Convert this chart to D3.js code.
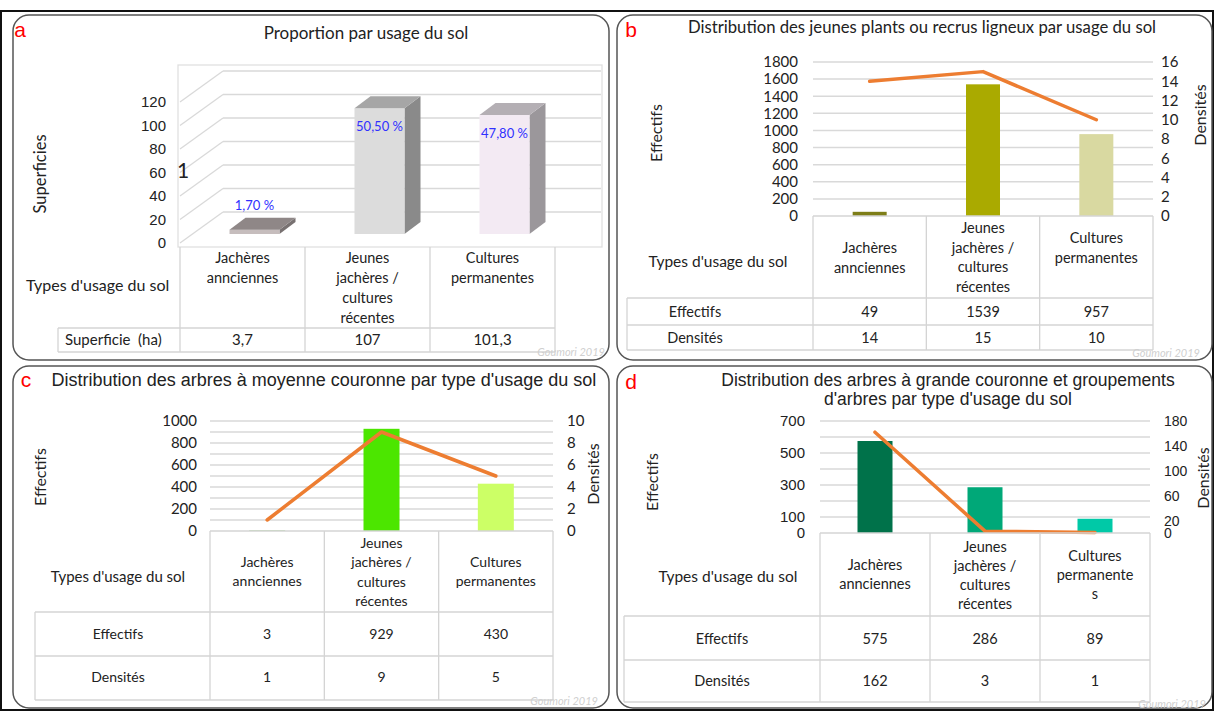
<!DOCTYPE html>
<html>
<head>
<meta charset="utf-8">
<script src="https://cdn.jsdelivr.net/npm/d3@7"></script>
<style>
body { margin: 0; background: #fff; }
svg { display: block; }
</style>
</head>
<body>
<script>
// ---- data ----
const catKeys = ["Jachères annciennes", "Jeunes jachères / cultures récentes", "Cultures permanentes"];
const catLines = [["Jachères", "annciennes"], ["Jeunes", "jachères /", "cultures", "récentes"], ["Cultures", "permanentes"]];
const catLinesD = [["Jachères", "annciennes"], ["Jeunes", "jachères /", "cultures", "récentes"], ["Cultures", "permanente", "s"]];

const superficie = [3.7, 107, 101.3];
const superficieText = ["3,7", "107", "101,3"];
const proportions = ["1,70 %", "50,50 %", "47,80 %"];
const ticksA = [0, 20, 40, 60, 80, 100, 120];

const effectifsB = [49, 1539, 957];
const densitesB = [14, 15, 10];
const ticksLeftB = [0, 200, 400, 600, 800, 1000, 1200, 1400, 1600, 1800];
const ticksRightB = [0, 2, 4, 6, 8, 10, 12, 14, 16];

const effectifsC = [3, 929, 430];
const densitesC = [1, 9, 5];
const ticksLeftC = [0, 200, 400, 600, 800, 1000];
const ticksRightC = [0, 2, 4, 6, 8, 10];

const effectifsD = [575, 286, 89];
const densitesD = [162, 3, 1];
const ticksLeftD = [0, 100, 300, 500, 700];
const ticksRightD = [0, 20, 60, 100, 140, 180];

const CAL = "Lato, 'Open Sans', sans-serif";
const ARIAL = "'Liberation Sans', Arial, sans-serif";
const GRID = "#d9d9d9";
const TABLE = "#d4d4d4";

const svg = d3.select("body").append("svg").attr("width", 1215).attr("height", 711);
svg.append("rect").attr("width", 1215).attr("height", 711).attr("fill", "#fff");

// outer frame
svg.append("rect").attr("x", 1).attr("y", 11).attr("width", 1212).attr("height", 699)
    .attr("fill", "none").attr("stroke", "#111").attr("stroke-width", 2);

// panel frames
const frames = [[13, 15, 596, 345], [617, 15, 595, 345], [13, 366, 596, 342], [617, 366, 595, 342]];
svg.selectAll(".frame").data(frames).join("rect")
    .attr("x", d => d[0]).attr("y", d => d[1]).attr("width", d => d[2]).attr("height", d => d[3])
    .attr("rx", 16).attr("fill", "#fff").attr("stroke", "#555").attr("stroke-width", 1.5);

function txt(g, x, y, s, opts) {
    opts = opts || {};
    return g.append("text").attr("x", x).attr("y", y).attr("dy", "0.35em")
        .attr("text-anchor", opts.anchor || "middle")
        .attr("font-family", opts.font || CAL)
        .attr("font-size", opts.size || 14)
        .attr("font-style", opts.style || null)
        .attr("fill", opts.fill || "#222")
        .text(s);
}

function vlabel(g, x, y, s, size) {
    g.append("text").attr("transform", "translate(" + x + "," + y + ") rotate(-90)")
        .attr("dy", "0.35em").attr("text-anchor", "middle")
        .attr("font-family", CAL).attr("font-size", size || 15).attr("fill", "#222").text(s);
}

function hline(g, x1, x2, y, c) {
    g.append("line").attr("x1", x1).attr("x2", x2).attr("y1", y).attr("y2", y)
        .attr("stroke", c || TABLE).attr("stroke-width", 1.3);
}
function vline(g, x, y1, y2, c) {
    g.append("line").attr("x1", x).attr("x2", x).attr("y1", y1).attr("y2", y2)
        .attr("stroke", c || TABLE).attr("stroke-width", 1.3);
}

// ---- panel a : 3D columns ----
(function () {
    const g = svg.append("g");
    const x = d3.scaleBand().domain(catKeys).range([180, 555]);
    const y = d3.scaleLinear().domain([0, 120]).range([243, 102]);
    const dx = 43, dy = -31;      // wall depth
    const fdx = 12, fdy = -9;     // bar front plane
    const bdx = 16, bdy = -12;    // bar depth
    const bw = 50;

    g.append("rect").attr("x", 178).attr("y", 65).attr("width", 424).attr("height", 182)
        .attr("fill", "none").attr("stroke", "#e0e0e0").attr("stroke-width", 1.3);

    g.selectAll(".gb").data(ticksA).join("line")
        .attr("x1", 180 + dx).attr("x2", 601).attr("y1", d => y(d) + dy).attr("y2", d => y(d) + dy)
        .attr("stroke", GRID).attr("stroke-width", 1.3);
    g.selectAll(".gd").data(ticksA).join("line")
        .attr("x1", 180).attr("x2", 180 + dx).attr("y1", d => y(d)).attr("y2", d => y(d) + dy)
        .attr("stroke", GRID).attr("stroke-width", 1.3);

    const ax = g.append("g").attr("transform", "translate(166,0)")
        .call(d3.axisLeft(y).tickValues(ticksA).tickSize(0).tickPadding(0).tickFormat(d3.format("d")));
    ax.select(".domain").remove();
    ax.selectAll("text").attr("font-family", ARIAL).attr("font-size", 15).attr("fill", "#222");

    const front = ["#c6bdbd", "#dcdcdc", "#f3eaf3"];
    const top = ["#8f8787", "#a6a6a6", "#b4afb4"];
    const side = ["#787171", "#8a8a8a", "#9b979b"];

    superficie.forEach((v, i) => {
        const cx = x(catKeys[i]) + x.bandwidth() / 2 + fdx;
        const x0 = cx - bw / 2, x1 = cx + bw / 2;
        const ft = y(v) + fdy, fb = y(0) + fdy;
        g.append("polygon").attr("points", [[x1, ft], [x1 + bdx, ft + bdy], [x1 + bdx, fb + bdy], [x1, fb]].join(" "))
            .attr("fill", side[i]);
        g.append("rect").attr("x", x0).attr("y", ft).attr("width", bw).attr("height", fb - ft).attr("fill", front[i]);
        g.append("polygon").attr("points", [[x0, ft], [x1, ft], [x1 + bdx, ft + bdy], [x0 + bdx, ft + bdy]].join(" "))
            .attr("fill", top[i]);
        const ly = (fb - ft) < 30 ? ft - 24 : ft + 18;
        txt(g, cx, ly, proportions[i], {size: 13, fill: "#3030ff"});
    });

    txt(g, 366, 33, "Proportion par usage du sol", {size: 17});
    txt(g, 20, 30, "a", {font: ARIAL, size: 21, fill: "#ff0000"});
    vlabel(g, 40, 174, "Superficies", 16.5);
    txt(g, 183, 171, "1", {size: 21});

    // table
    [180, 305, 430, 555].forEach(xx => vline(g, xx, 247, 352));
    hline(g, 58, 555, 328);
    hline(g, 58, 555, 352);
    vline(g, 58, 328, 352);
    catLines.forEach((ls, i) => ls.forEach((s, j) =>
        txt(g, x(catKeys[i]) + x.bandwidth() / 2, 258 + j * 20, s, {size: 14.5})));
    txt(g, 26, 285, "Types d'usage du sol", {anchor: "start", size: 16});
    txt(g, 65, 340, "Superficie\u00a0 (ha)", {anchor: "start", size: 15});
    superficieText.forEach((s, i) => txt(g, x(catKeys[i]) + x.bandwidth() / 2, 340, s, {size: 15}));
    txt(g, 605, 352, "Goumori 2019", {anchor: "end", size: 11, style: "italic", fill: "#d0d0d0"});
})();

// ---- bar + line combo panels ----
function combo(p) {
    const g = svg.append("g");
    const x = d3.scaleBand().domain(catKeys).range([p.x0, p.x1]);
    const yL = d3.scaleLinear().domain([0, p.lMax]).range([p.yBot, p.yTop]);
    const yR = d3.scaleLinear().domain([0, p.rMax]).range([p.yBot, p.yTop]);
    const cxs = catKeys.map(k => x(k) + x.bandwidth() / 2);

    g.selectAll(".grid").data(d3.range(p.gridStep, p.lMax + 1, p.gridStep)).join("line")
        .attr("x1", p.x0).attr("x2", p.x1).attr("y1", d => yL(d)).attr("y2", d => yL(d))
        .attr("stroke", GRID).attr("stroke-width", 1.5);

    const la = g.append("g").attr("transform", "translate(" + p.lLabelX + ",0)")
        .call(d3.axisLeft(yL).tickValues(p.lTicks).tickSize(0).tickPadding(0).tickFormat(d3.format("d")));
    la.select(".domain").remove();
    la.selectAll("text").attr("font-family", p.tickFont).attr("font-size", p.tickSize).attr("fill", "#222");

    const ra = g.append("g").attr("transform", "translate(" + p.rLabelX + ",0)")
        .call(d3.axisRight(yR).tickValues(p.rTicks).tickSize(0).tickPadding(0).tickFormat(d3.format("d")));
    ra.select(".domain").remove();
    ra.selectAll("text").attr("font-family", p.tickFont).attr("font-size", p.rTickSize || p.tickSize).attr("fill", "#222");

    g.selectAll(".bar").data(p.eff).join("rect")
        .attr("x", (d, i) => cxs[i] - p.barW / 2).attr("y", d => yL(d))
        .attr("width", p.barW).attr("height", d => p.yBot - yL(d))
        .attr("fill", (d, i) => p.colors[i]);

    const line = d3.line().x((d, i) => cxs[i]).y(d => yR(d));
    g.append("path").attr("d", line(p.dens)).attr("fill", "none")
        .attr("stroke", "#ed7d31").attr("stroke-width", 3.5)
        .attr("stroke-linecap", "round").attr("stroke-linejoin", "round");

    // data table
    const r = p.rows;
    catKeys.forEach((k, i) => vline(g, x(k), p.yBot, r[2]));
    vline(g, p.x1, p.yBot, r[2]);
    hline(g, p.x0, p.x1, p.yBot);
    hline(g, p.tableLeft, p.x1, r[0]);
    hline(g, p.tableLeft, p.x1, r[1]);
    hline(g, p.tableLeft, p.x1, r[2]);
    vline(g, p.tableLeft, r[0], r[2]);

    p.cats.forEach((ls, i) => ls.forEach((s, j) =>
        txt(g, cxs[i], p.catY[i] + j * p.lh, s, {size: p.tblSize})));
    txt(g, p.typesX, p.typesY, "Types d'usage du sol", {size: p.typesSize});
    txt(g, p.rowLabelX, p.rowY[0], "Effectifs", {size: p.tblSize});
    txt(g, p.rowLabelX, p.rowY[1], "Densités", {size: p.tblSize});
    p.eff.forEach((v, i) => txt(g, cxs[i], p.rowY[0], String(v), {size: p.tblSize}));
    p.dens.forEach((v, i) => txt(g, cxs[i], p.rowY[1], String(v), {size: p.tblSize}));

    vlabel(g, p.effLabel[0], p.effLabel[1], "Effectifs", 16);
    vlabel(g, p.densLabel[0], p.densLabel[1], "Densités", 16);

    p.title.forEach((s, j) => txt(g, p.titleX, p.titleY + j * 19, s, {font: p.titleFont, size: p.titleSize}));
    txt(g, p.letter[1], p.letter[2], p.letter[0], {font: ARIAL, size: 21, fill: "#ff0000"});
    txt(g, p.mark[0], p.mark[1], "Goumori 2019", {anchor: "end", size: 11, style: "italic", fill: "#d0d0d0"});
}

combo({
    x0: 813, x1: 1153, yTop: 62, yBot: 216,
    lMax: 1800, gridStep: 200, lTicks: ticksLeftB, rMax: 16, rTicks: ticksRightB,
    lLabelX: 798, rLabelX: 1161, tickFont: CAL, tickSize: 15,
    eff: effectifsB, dens: densitesB, barW: 34, colors: ["#7e7e18", "#aaaa00", "#d9d9a1"],
    rows: [298, 325, 350], tableLeft: 627,
    cats: catLines, catY: [248, 228, 238], lh: 19.7, tblSize: 14.5,
    typesX: 718, typesY: 262, typesSize: 15.5, rowLabelX: 695, rowY: [312, 338],
    effLabel: [656, 133], densLabel: [1200, 115],
    title: ["Distribution des jeunes plants ou recrus ligneux par usage du sol"],
    titleX: 922, titleY: 27, titleFont: CAL, titleSize: 16.7,
    letter: ["b", 631, 30], mark: [1200, 353]
});

combo({
    x0: 210, x1: 553, yTop: 421, yBot: 531,
    lMax: 1000, gridStep: 100, lTicks: ticksLeftC, rMax: 10, rTicks: ticksRightC,
    lLabelX: 197, rLabelX: 567, tickFont: CAL, tickSize: 15,
    eff: effectifsC, dens: densitesC, barW: 36, colors: ["#2e9e00", "#4ce600", "#ccff66"],
    rows: [612, 656, 700], tableLeft: 35,
    cats: catLines, catY: [562, 543, 562], lh: 19.5, tblSize: 14,
    typesX: 118, typesY: 577, typesSize: 15, rowLabelX: 118, rowY: [634, 677],
    effLabel: [40, 477], densLabel: [593, 474],
    title: ["Distribution des arbres à moyenne couronne par type d'usage du sol"],
    titleX: 324, titleY: 380, titleFont: ARIAL, titleSize: 18,
    letter: ["c", 26, 380], mark: [598, 701]
});

combo({
    x0: 820, x1: 1150, yTop: 421, yBot: 533,
    lMax: 700, gridStep: 100, lTicks: ticksLeftD, rMax: 180, rTicks: ticksRightD,
    lLabelX: 805, rLabelX: 1164, tickFont: ARIAL, tickSize: 15, rTickSize: 14,
    eff: effectifsD, dens: densitesD, barW: 35, colors: ["#00724a", "#00a878", "#00c9a7"],
    rows: [616, 660, 702], tableLeft: 624,
    cats: catLinesD, catY: [565, 547, 556], lh: 19, tblSize: 14.5,
    typesX: 728, typesY: 577, typesSize: 15.5, rowLabelX: 722, rowY: [639, 681],
    effLabel: [652, 482], densLabel: [1203, 478],
    title: ["Distribution des arbres à grande couronne et groupements", "d'arbres par type d'usage du sol"],
    titleX: 948, titleY: 380, titleFont: ARIAL, titleSize: 17.5,
    letter: ["d", 631, 382], mark: [1206, 704]
});
</script>
</body>
</html>
